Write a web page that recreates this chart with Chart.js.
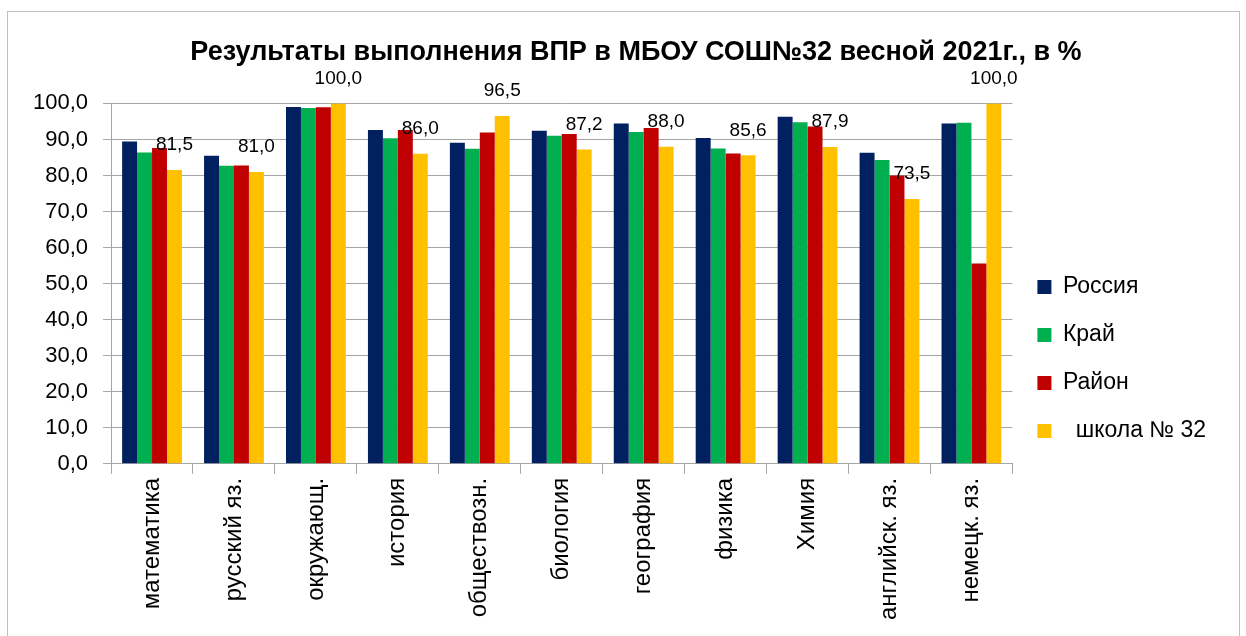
<!DOCTYPE html>
<html>
<head>
<meta charset="utf-8">
<script src="https://cdn.jsdelivr.net/npm/chart.js@4"></script>
<style>
  html, body { margin: 0; padding: 0; background: #fff; }
  #wrap { width: 1246px; height: 636px; }
</style>
</head>
<body>
<div id="wrap"><canvas id="vpr" width="1246" height="636"></canvas></div>
<script>
const subjects = ["математика", "русский яз.", "окружающ.", "история", "обществозн.", "биология",
  "география", "физика", "Химия", "английск. яз.", "немецк. яз."];
const russia = [89.4, 85.5, 99.0, 92.6, 89.1, 92.4, 94.4, 90.4, 96.3, 86.3, 94.4];
const krai   = [86.4, 82.7, 98.7, 90.3, 87.4, 91.0, 92.1, 87.5, 94.8, 84.3, 94.6];
const raion  = [87.6, 82.8, 98.9, 92.6, 91.9, 91.5, 93.2, 86.1, 93.6, 80.0, 55.6];
const school = [81.5, 81.0, 100.0, 86.0, 96.5, 87.2, 88.0, 85.6, 87.9, 73.5, 100.0];
const seriesNames = ["Россия", "Край", "Район", "  школа № 32"];
const seriesColors = ["#002060", "#00b050", "#c00000", "#ffc000"];
const titleText = "Результаты выполнения ВПР в МБОУ СОШ№32 весной 2021г., в %";

const FONT = "'Liberation Sans', Arial, sans-serif";
const fmt = v => v.toFixed(1).replace(".", ",");

// frame around the whole chart, like the Excel chart border
const frame = {
  id: "frame",
  beforeDraw(chart) {
    const c = chart.ctx;
    c.save();
    c.strokeStyle = "#bfbfbf";
    c.lineWidth = 1;
    c.strokeRect(7.5, 11.5, 1232, 640);
    c.restore();
  }
};

// title is laid out by Chart.js (transparent) but drawn centred on the whole frame
const centredTitle = {
  id: "centredTitle",
  afterDraw(chart) {
    const tb = chart.titleBlock;
    const c = chart.ctx;
    c.save();
    c.font = "bold 27px " + FONT;
    c.fillStyle = "#000";
    c.textAlign = "center";
    c.textBaseline = "middle";
    c.fillText(titleText, 636, tb.top + 17 + 16);
    c.restore();
  }
};

// value labels only for the school series, drawn above the bars
const schoolLabels = {
  id: "schoolLabels",
  afterDatasetsDraw(chart) {
    const c = chart.ctx;
    const meta = chart.getDatasetMeta(3);
    c.save();
    c.font = "19px " + FONT;
    c.fillStyle = "#000";
    c.textAlign = "center";
    c.textBaseline = "middle";
    meta.data.forEach((bar, i) => {
      c.fillText(fmt(school[i]), bar.x, bar.y - 25);
    });
    c.restore();
  }
};

const datasets = [russia, krai, raion, school].map((d, i) => ({
  label: seriesNames[i],
  data: d,
  backgroundColor: seriesColors[i],
  borderWidth: 0,
  barPercentage: 1.0,
  categoryPercentage: 0.73
}));

new Chart(document.getElementById("vpr"), {
  type: "bar",
  data: { labels: subjects, datasets: datasets },
  options: {
    responsive: false,
    animation: false,
    layout: { padding: { left: 18, right: 30, top: 20, bottom: 12 } },
    plugins: {
      title: {
        display: true,
        text: titleText,
        color: "rgba(0,0,0,0)",
        font: { family: FONT, size: 27, weight: "bold" },
        padding: { top: 17, bottom: 34 }
      },
      legend: {
        position: "right",
        align: "center",
        title: { display: true, text: " ", font: { size: 10 }, padding: 31 },
        labels: {
          color: "#000",
          font: { family: FONT, size: 23 },
          boxWidth: 14,
          boxHeight: 14,
          padding: 25
        }
      },
      tooltip: { enabled: false }
    },
    scales: {
      x: {
        grid: { display: true, drawOnChartArea: false, offset: true, tickLength: 10, color: "#a6a6a6" },
        border: { color: "#a6a6a6" },
        ticks: { color: "#000", font: { family: FONT, size: 24 }, minRotation: 90, maxRotation: 90, padding: 4 }
      },
      y: {
        min: 0,
        max: 100,
        ticks: { stepSize: 10, color: "#000", font: { family: FONT, size: 22 }, callback: v => fmt(v), padding: 15 },
        grid: { color: "#a6a6a6", tickLength: 8 },
        border: { color: "#a6a6a6" }
      }
    }
  },
  plugins: [frame, centredTitle, schoolLabels]
});
</script>
</body>
</html>
